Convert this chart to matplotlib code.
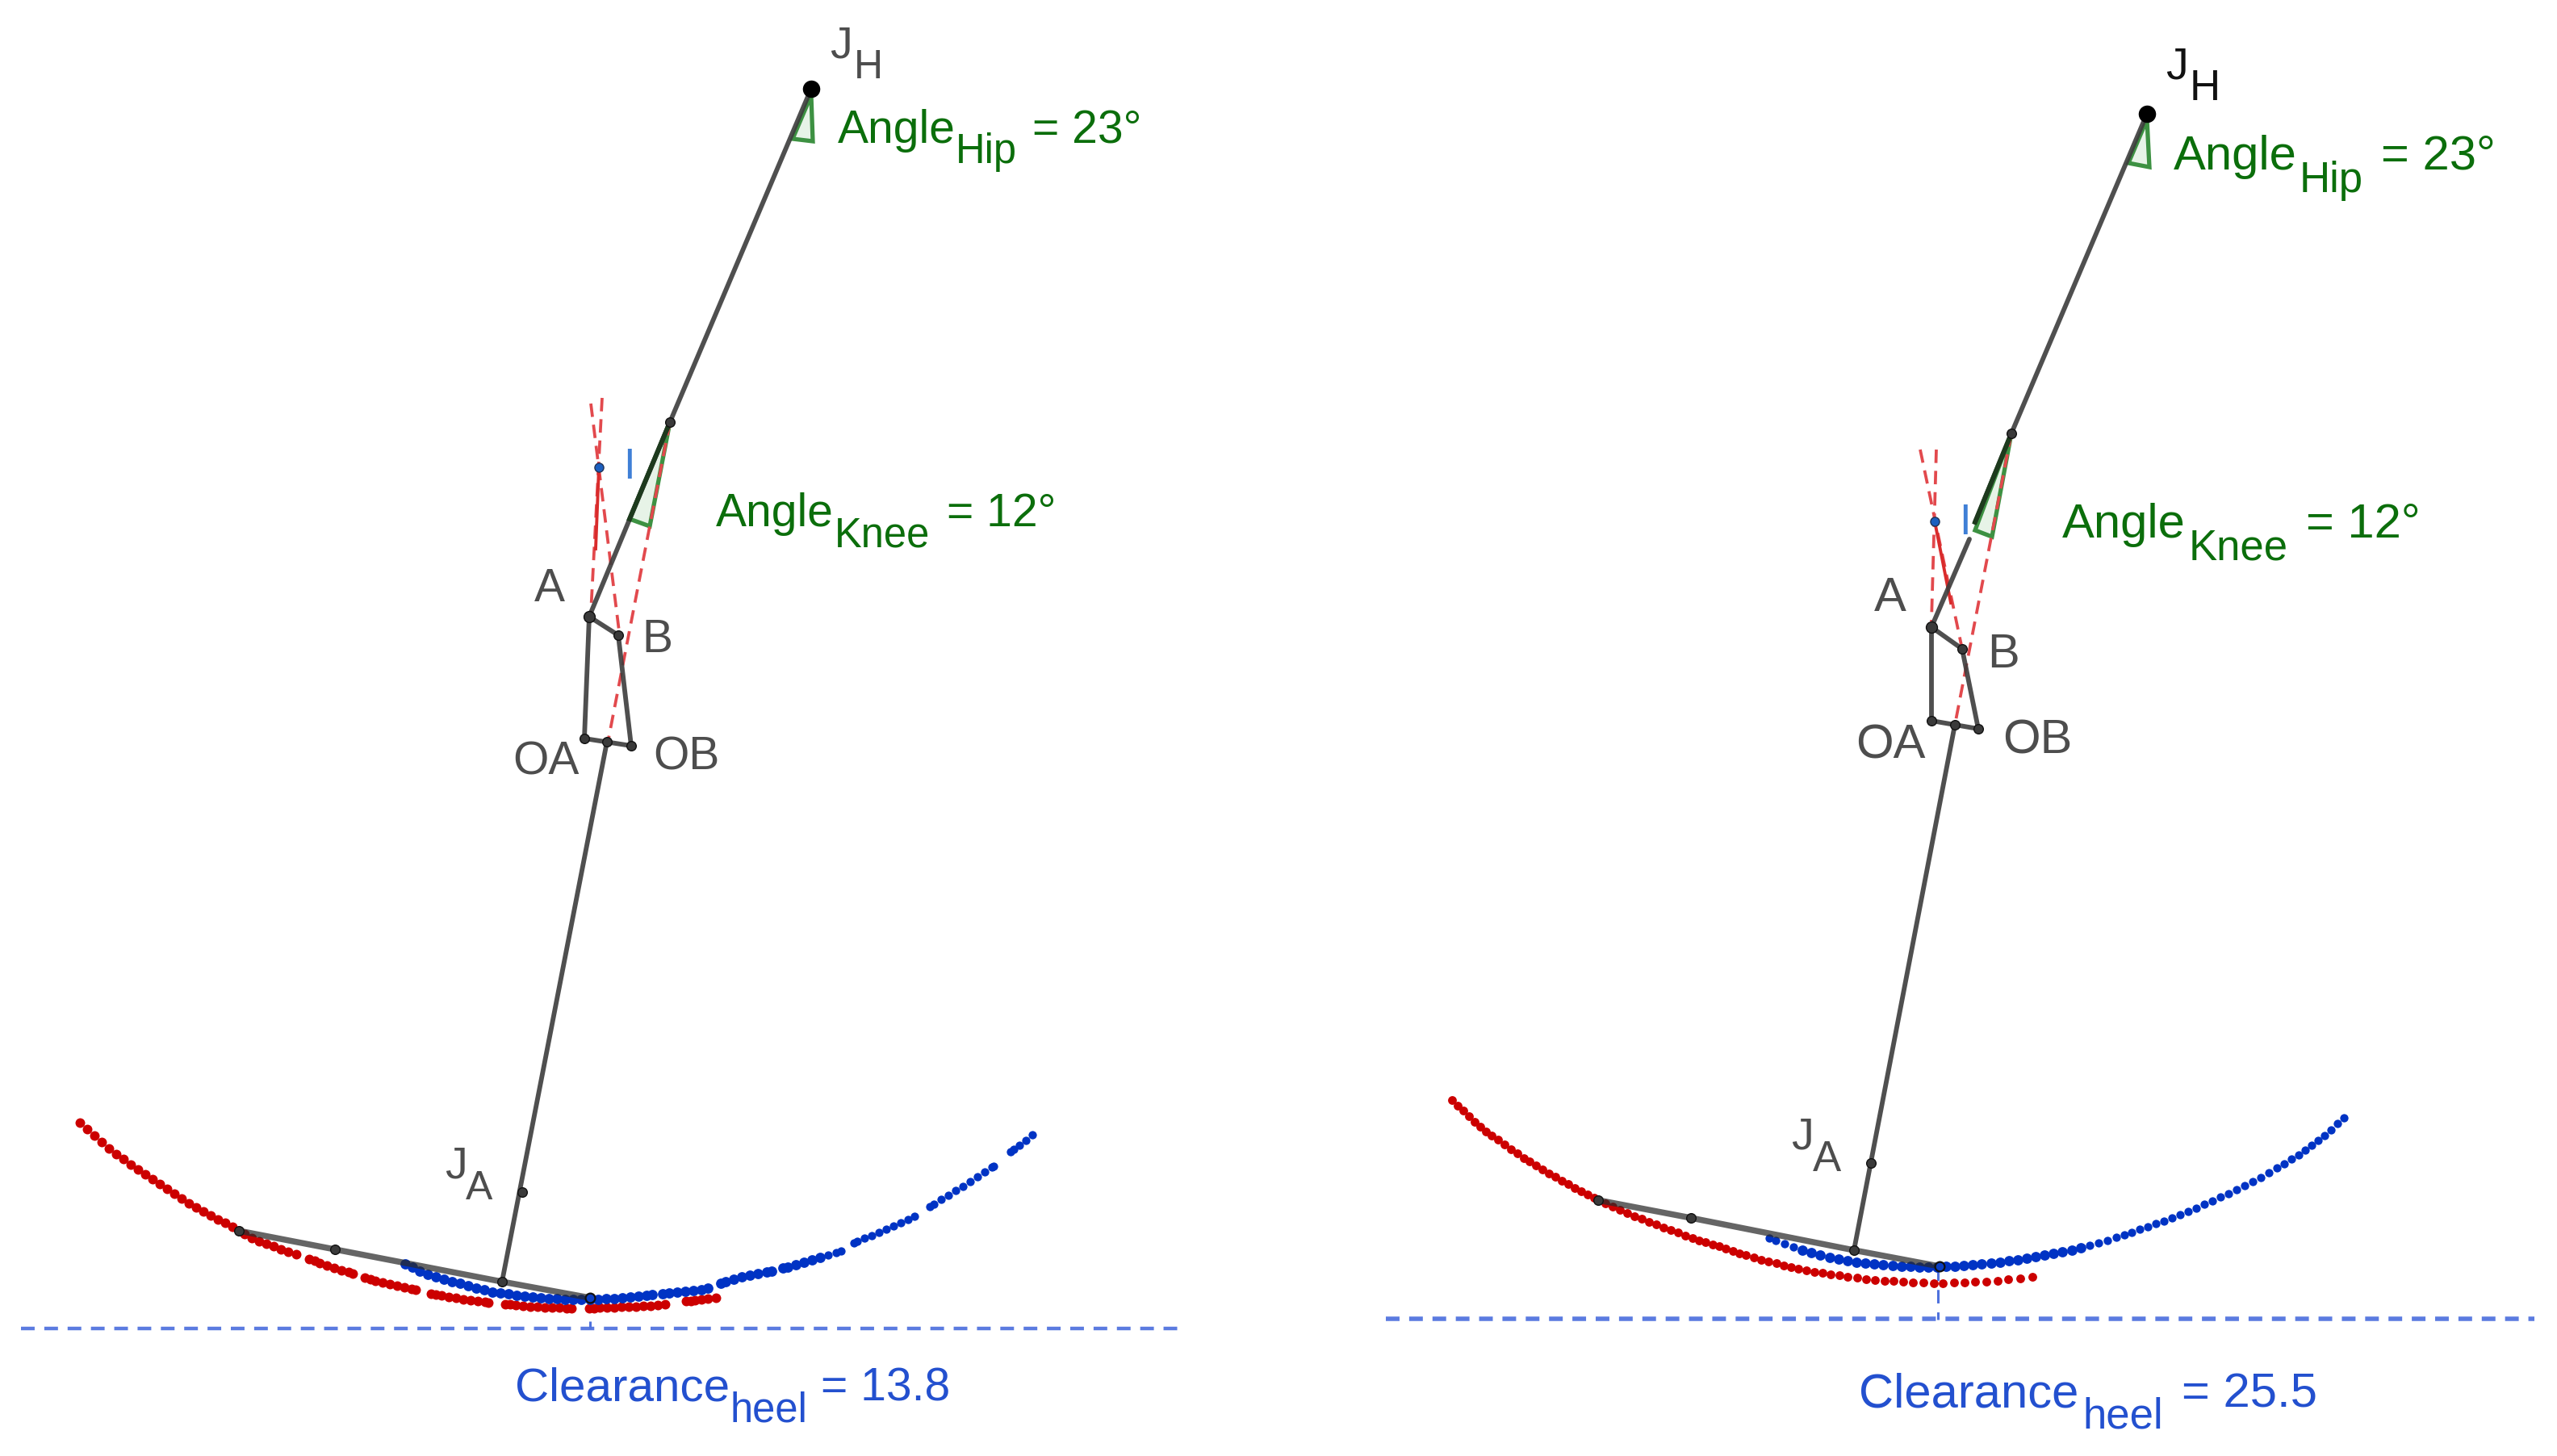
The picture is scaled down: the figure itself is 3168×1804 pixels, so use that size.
import numpy as np
import matplotlib
matplotlib.use("Agg")
import matplotlib.pyplot as plt

plt.rcParams['font.family'] = ['Liberation Sans', 'DejaVu Sans']
plt.rcParams['lines.scale_dashes'] = False

# ---------- data (image pixel units) ----------
L_red = [(99,1391),(108,1399),(117,1407),(126,1415),(135,1423),(144,1430),(153,1436),(162,1443),(171,1449),(180,1455),
 (189,1461),(198,1467),(207,1473),(216,1479),(225,1485),(234,1491),(243,1496),(252,1501),(261,1506),(270,1511),(279,1515),(288,1520),(296,1525),
 (303,1529),(312,1534),(321,1538),(330,1541),(339,1544),(348,1548),(357,1551),(367,1554),
 (383,1560),(390,1562),(396,1565),(405,1568),(414,1571),(423,1574),(432,1576),(437,1578),
 (452,1583),(459,1585),(465,1587),(474,1589),(483,1591),(492,1593),(501,1595),(510,1597),(515,1598),
 (534,1603),(540,1604),(547,1605),(556,1607),(565,1608),(574,1610),(583,1611),(592,1612),(601,1613),(605,1614),
 (626,1616),(632,1616),(639,1617),(648,1618),(657,1619),(666,1619),(675,1620),(684,1620),(693,1620),(702,1621),(708,1621),
 (730,1621),(736,1621),(743,1620),(752,1620),(761,1620),(770,1619),(779,1619),(788,1619),(797,1618),(806,1618),(815,1617),(824,1616),
 (850,1612),(856,1612),(861,1611),(869,1610),(877,1609),(887,1608)]
L_blue = [(502,1566),(511,1570),(520,1575),(530,1579),(540,1582),(550,1585),(560,1588),(570,1590),(580,1593),(590,1596),(600,1598),(610,1601),
 (620,1602),(630,1603),(640,1605),(650,1606),(660,1607),(670,1608),(680,1609),(690,1609),(700,1610),(710,1610),(720,1610),(731,1610),
 (741,1610),(751,1609),(761,1609),(771,1608),(781,1607),(791,1606),(801,1605),(808,1604),
 (821,1603),(829,1602),(839,1601),(849,1600),(859,1599),(869,1598),(877,1596),
 (893,1590),(899,1588),(909,1585),(919,1582),(929,1580),(939,1578),(950,1576),(956,1575),
 (970,1571),(976,1570),(986,1567),(996,1564),(1006,1561),(1016,1558),(1026,1555),(1036,1552),(1042,1550),
 (1058,1540),(1062,1538),(1071,1534),(1080,1531),(1089,1527),(1098,1523),(1107,1519),(1116,1515),(1125,1511),(1133,1507),
 (1152,1495),(1157,1492),(1166,1486),(1175,1481),(1184,1475),(1193,1470),(1202,1464),(1211,1458),(1220,1452),(1229,1446),(1231,1445),
 (1252,1427),(1256,1424),(1263,1419),(1271,1413),(1279,1406)]
R_red = [(1799,1363),(1806,1370),(1813,1376),(1820,1383),(1827,1390),(1834,1396),(1841,1402),(1848,1407),(1856,1412),(1864,1418),(1872,1424),(1880,1429),
 (1888,1435),(1895,1439),(1903,1444),(1911,1449),(1919,1454),(1927,1458),(1935,1463),(1943,1467),(1951,1472),(1959,1476),(1967,1480),(1975,1484),
 (1980,1487),(1989,1491),(1998,1495),(2007,1499),(2016,1503),(2025,1507),(2034,1510),(2043,1514),(2052,1517),(2061,1521),(2070,1524),(2079,1527),(2088,1531),(2097,1534),
 (2105,1537),(2113,1539),(2122,1542),(2130,1544),(2138,1547),(2147,1550),(2155,1553),(2163,1555),(2173,1558),(2182,1561),(2191,1563),(2201,1565),(2210,1568),(2219,1570),
 (2228,1572),(2238,1574),(2248,1576),(2258,1577),(2268,1579),(2279,1580),(2289,1582),(2301,1583),(2312,1585),(2323,1586),(2335,1587),(2346,1587),(2358,1588),(2370,1589),
 (2383,1589),(2396,1590),(2407,1590),(2421,1589),(2434,1589),(2447,1588),(2461,1588),(2475,1587),(2488,1585),(2503,1584),(2518,1582)]
R_blue = [(2192,1534),(2200,1537),(2211,1541),(2222,1545),(2233,1549),(2244,1552),(2255,1555),(2267,1558),(2278,1560),(2289,1562),(2300,1564),(2311,1565),(2322,1566),(2333,1567),
 (2345,1568),(2356,1569),(2367,1569),(2378,1570),(2389,1570),(2400,1570),(2411,1569),(2422,1569),(2433,1568),(2444,1567),(2455,1566),(2467,1565),(2478,1564),(2489,1562),(2500,1561),
 (2511,1559),(2522,1557),(2533,1555),(2544,1553),(2555,1551),(2567,1549),(2578,1546),(2589,1543),(2600,1540),(2611,1537),(2622,1533),(2632,1530),(2641,1527),(2651,1523),(2661,1520),
 (2671,1516),(2681,1513),(2691,1509),(2701,1505),(2711,1501),(2721,1497),(2731,1492),(2741,1488),(2751,1483),(2761,1479),(2771,1474),(2781,1469),(2791,1464),(2801,1459),(2811,1453),
 (2821,1447),(2830,1442),(2839,1436),(2848,1431),(2856,1425),(2864,1419),(2872,1413),(2880,1407),(2888,1400),(2896,1392),(2904,1385)]

L_pts = dict(JH=(1005,110), K=(830,523), I=(742,579), A=(730,764), B=(766,787), OA=(724,915), M=(752,919),
             OB=(782,924), JA=(647,1477), TOE=(296,1525), FM=(415,1548), ANK=(622,1588), HEEL=(731,1608))
R_pts = dict(JH=(2660,141), K=(2492,537), I=(2397,646), A=(2393,777), B=(2431,804), OA=(2393,893), M=(2422,898),
             OB=(2451,903), JA=(2318,1441), TOE=(1980,1487), FM=(2095,1509), ANK=(2297,1549), HEEL=(2403,1569))

L_hip_wedge = [(1005,118),(1007,175),(982,172)]
R_hip_wedge = [(2660,148),(2663,207),(2637,202)]
L_knee_wedge = [(830,523),(805,652),(780,643)]
R_knee_wedge = [(2492,537),(2468,665),(2447,657)]

L_ground = ([26,1466],[1646,1646])
R_ground = ([1717,3140],[1634,1634])
L_drop = ([731,731],[1637,1646])
R_drop = ([2401,2401],[1570,1635])

L_red_dashed = [((732,500),(768,790)), ((746,493),(732,760)), ((830,523),(754,915))]
L_red_solid = [((742,579),(738,680))]
R_red_dashed = [((2379,557),(2431,804)), ((2399,557),(2393,770)), ((2492,537),(2423,893))]
R_red_solid = [((2397,646),(2417,747))]

GRAY = '#4d4d4d'
GREEN = '#0b6e0b'
BLUE_T = '#2350cf'
LABEL_BLUE = '#3f7fd6'

# (text, x, baseline y, size, colour)
texts = [
 ('J',1028,71,40,GRAY), ('H',1058,97,36,GRAY),
 ('Angle',1038,177,41,GREEN), ('Hip',1184,202,36.5,GREEN), ('= 23°',1279,177,41,GREEN),
 ('I',772,593,38,LABEL_BLUE),
 ('Angle',887,652,41,GREEN), ('Knee',1034,677,36.5,GREEN), ('= 12°',1173,652,41,GREEN),
 ('A',662,745,41,GRAY), ('B',795,808,41,GRAY), ('OA',635,959,41,GRAY), ('OB',809,953,41,GRAY),
 ('J',551,1460,40,GRAY), ('A',577,1486,36,GRAY),
 ('Clearance',638,1736,42,BLUE_T), ('heel',904,1762,36.5,BLUE_T), ('= 13.8',1017,1736,41,BLUE_T),

 ('J',2683,97,40,'#111111'), ('H',2713,124,38,'#111111'),
 ('Angle',2693,210,43,GREEN), ('Hip',2849,238,38,GREEN), ('= 23°',2950,210,43,GREEN),
 ('I',2427,662,38,LABEL_BLUE),
 ('Angle',2555,666,43,GREEN), ('Knee',2712,693,38,GREEN), ('= 12°',2857,666,43,GREEN),
 ('A',2322,757,43,GRAY), ('B',2462,827,43,GRAY), ('OA',2299,940,43,GRAY), ('OB',2481,934,43,GRAY),
 ('J',2219,1423,40,GRAY), ('A',2246,1451,38,GRAY),
 ('Clearance',2303,1743,43,BLUE_T), ('heel',2580,1770,38,BLUE_T), ('= 25.5',2703,1743,43,BLUE_T),
]

# ---------- drawing ----------
fig = plt.figure(figsize=(31.68, 18.04), dpi=100, facecolor='white')
ax = fig.add_axes([0, 0, 1, 1])
ax.set_xlim(0, 3168)
ax.set_ylim(1804, 0)
ax.axis('off')

def seg(p, q, **kw):
    ax.plot([p[0], q[0]], [p[1], q[1]], **kw)

def panel(P, red, blue, hip_w, knee_w, ground, drop, dashed, solid, ground_lw, red_ms, split=None):
    ax.plot(*ground, color='#5b7be0', lw=ground_lw, ls=(0, (12.2, 8.6)), zorder=1)
    ax.plot(*drop, color='#4f72dd', lw=2.2, ls=(0, (12, 8)), zorder=1)
    r = np.array(red)
    b = np.array(blue)
    low = b[:, 1] > 1555 if b[0, 0] < 1500 else b[:, 1] > 1545
    ax.plot(r[:, 0], r[:, 1], ls='none', marker='o', ms=red_ms, mew=0, color='#cc0000', zorder=2)
    ax.plot(b[low, 0], b[low, 1], ls='none', marker='o', ms=9.2, mew=0, color='#0033c4', zorder=2.5)
    ax.plot(b[~low, 0], b[~low, 1], ls='none', marker='o', ms=7.4, mew=0, color='#0033c4', zorder=2.5)
    for w in (hip_w, knee_w):
        ax.fill(*zip(*w), facecolor='#1a8a1a', alpha=0.10, edgecolor='none', zorder=3)
        ax.plot(*zip(*(w + [w[0]])), color='#3d9142', lw=3.8, zorder=3, solid_joinstyle='miter')
    for p, q in dashed:
        seg(p, q, color='#e2494d', lw=2.7, ls=(0, (12, 7)), zorder=3.2)
    for p, q in solid:
        seg(p, q, color='#d92b2b', lw=2.8, zorder=3.2)
    kw = dict(color='#3c3c3c', lw=4.2, zorder=4, solid_capstyle='round', alpha=0.9)
    if split is None:
        seg(P['A'], P['K'], **kw)
    else:
        seg(P['A'], split[0], **kw)
        seg(split[1], P['K'], **kw)
    seg(P['K'], P['JH'], **kw)
    for a, b_ in (('A','OA'), ('A','B'), ('B','OB'), ('OA','OB'), ('M','ANK')):
        seg(P[a], P[b_], **kw)
    for a, b_ in (('TOE','FM'), ('FM','ANK'), ('ANK','HEEL')):
        seg(P[a], P[b_], color='#2a2a2a', lw=5.4, alpha=0.72, zorder=4, solid_capstyle='butt')
    seg(knee_w[2] if split is None else split[1], P['K'], color='#1d3a1d', lw=4.2, zorder=4.1)
    for k in ('K','A','B','OA','M','OB','JA','TOE','FM','ANK'):
        ax.plot(*P[k], marker='o', ms=10 if k == 'A' else 8.4, mfc='#3a3a3a', mec='#111111', mew=1, zorder=5)
    ax.plot(*P['HEEL'], marker='o', ms=8.5, mfc='#0a3ec4', mec='#101010', mew=1.6, zorder=5)
    ax.plot(*P['I'], marker='o', ms=8, mfc='#1c5fbf', mec='#223355', mew=1, zorder=5)
    ax.plot(*P['JH'], marker='o', ms=15.5, mfc='black', mec='black', mew=0, zorder=5)

panel(L_pts, L_red, L_blue, L_hip_wedge, L_knee_wedge, L_ground, L_drop, L_red_dashed, L_red_solid, 3.2, 8.6)
panel(R_pts, R_red, R_blue, R_hip_wedge, R_knee_wedge, R_ground, R_drop, R_red_dashed, R_red_solid, 4.0, 7.8,
      split=((2440,668),(2447,647)))

for s, x, y, size, col in texts:
    ax.text(x, y, s, fontsize=size, color=col, ha='left', va='baseline', zorder=6)

fig.savefig('out.png', dpi=100, facecolor='white')
